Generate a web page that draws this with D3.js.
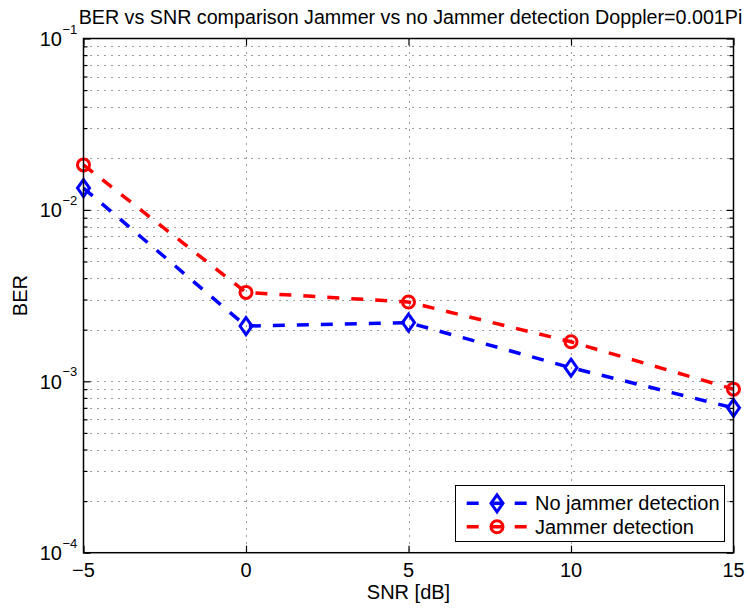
<!DOCTYPE html>
<html>
<head>
<meta charset="utf-8">
<script src="https://cdn.jsdelivr.net/npm/d3@7"></script>
<style>
  html, body { margin: 0; padding: 0; background: #fff; }
  svg { display: block; font-family: "Liberation Sans", Arial, Helvetica, sans-serif; }
</style>
</head>
<body>
<svg id="chart" width="748" height="613"></svg>
<script>
// SNR points and measured bit error rates
const snr = [-5, 0, 5, 10, 15];
const berNoJammerDetection = [0.0134, 0.0021, 0.0022, 0.0012, 0.0007];
const berJammerDetection   = [0.0183, 0.0033, 0.0029, 0.0017, 0.0009];

const xTickValues = [-5, 0, 5, 10, 15];
const yDecades = [1e-4, 1e-3, 1e-2, 1e-1];
const yExponents = ["\u22124", "\u22123", "\u22122", "\u22121"];
const legendLabels = ["No jammer detection", "Jammer detection"];

(function () {
const W = 748, H = 613;
const plotLeft = 83.5, plotRight = 733.5, plotTop = 38.5, plotBottom = 552.7;

const svg = d3.select("#chart");
svg.append("rect").attr("width", W).attr("height", H).attr("fill", "#fff");

const x = d3.scaleLinear().domain([-5, 15]).range([plotLeft, plotRight]);
const y = d3.scaleLog().domain([1e-4, 1e-1]).range([plotBottom, plotTop]);

// minor log ticks: 2..9 within every decade
const yMinor = [];
yDecades.slice(0, -1).forEach(d => { for (let k = 2; k <= 9; k++) yMinor.push(d * k); });
const yAllGrid = yDecades.concat(yMinor);

// dotted grid
const grid = svg.append("g").attr("stroke", "#3a3a3a").attr("stroke-width", 1)
  .attr("stroke-dasharray", "1,6").attr("fill", "none");
grid.selectAll("line.h").data(yAllGrid.filter(v => v > 1e-4 && v < 1e-1)).join("line")
  .attr("class", "h")
  .attr("x1", plotLeft).attr("x2", plotRight)
  .attr("y1", d => Math.round(y(d)) + 0.5).attr("y2", d => Math.round(y(d)) + 0.5);
grid.selectAll("line.v").data(xTickValues.slice(1, -1)).join("line")
  .attr("class", "v")
  .attr("y1", plotTop).attr("y2", plotBottom)
  .attr("x1", d => Math.round(x(d)) + 0.5).attr("x2", d => Math.round(x(d)) + 0.5);

// axes: inward ticks on all four sides
function styleAxis(g) {
  g.select(".domain").remove();
  g.selectAll(".tick line").attr("stroke", "#000").attr("stroke-width", 1.2);
  g.selectAll(".tick text").remove();
}
svg.append("g").attr("transform", `translate(0,${plotBottom})`)
  .call(d3.axisBottom(x).tickValues(xTickValues).tickSize(-7).tickFormat(""))
  .call(styleAxis);
svg.append("g").attr("transform", `translate(0,${plotTop})`)
  .call(d3.axisTop(x).tickValues(xTickValues).tickSize(-7).tickFormat(""))
  .call(styleAxis);
svg.append("g").attr("transform", `translate(${plotLeft},0)`)
  .call(d3.axisLeft(y).tickValues(yDecades).tickSize(-7).tickFormat(""))
  .call(styleAxis);
svg.append("g").attr("transform", `translate(${plotRight},0)`)
  .call(d3.axisRight(y).tickValues(yDecades).tickSize(-7).tickFormat(""))
  .call(styleAxis);
svg.append("g").attr("transform", `translate(${plotLeft},0)`)
  .call(d3.axisLeft(y).tickValues(yMinor).tickSize(-4).tickFormat(""))
  .call(styleAxis);
svg.append("g").attr("transform", `translate(${plotRight},0)`)
  .call(d3.axisRight(y).tickValues(yMinor).tickSize(-4).tickFormat(""))
  .call(styleAxis);

// x tick labels
svg.append("g").selectAll("text").data(xTickValues).join("text")
  .attr("x", d => x(d)).attr("y", 577)
  .attr("text-anchor", "middle").attr("font-size", 20).attr("fill", "#000")
  .text(d => d < 0 ? "\u2212" + Math.abs(d) : String(d));

// y tick labels as 10 with superscript exponent
const yl = svg.append("g").attr("fill", "#000");
yDecades.forEach((d, i) => {
  const yy = y(d);
  yl.append("text").attr("x", 62).attr("y", yy + 7.5)
    .attr("text-anchor", "end").attr("font-size", 20).text("10");
  yl.append("text").attr("x", 62.5).attr("y", yy - 5)
    .attr("font-size", 13).text(yExponents[i]);
});

// axis labels and title
svg.append("text").attr("x", (plotLeft + plotRight) / 2).attr("y", 599)
  .attr("text-anchor", "middle").attr("font-size", 20).text("SNR [dB]");
svg.append("text").attr("transform", `translate(27,${(plotTop + plotBottom) / 2}) rotate(-90)`)
  .attr("text-anchor", "middle").attr("font-size", 20).text("BER");
svg.append("text").attr("x", 410.5).attr("y", 24)
  .attr("text-anchor", "middle").attr("font-size", 19.7)
  .text("BER vs SNR comparison Jammer vs no Jammer detection Doppler=0.001Pi");

// series
const diamond = "M0,-8.5L6,0L0,8.5L-6,0Z";
const series = [
  { values: berNoJammerDetection, color: "#0000ff", marker: "diamond" },
  { values: berJammerDetection,   color: "#ff0000", marker: "circle" }
];
const line = d3.line().x(d => x(d[0])).y(d => y(d[1]));

function drawMarker(g, type, color) {
  if (type === "diamond") {
    g.append("path").attr("d", diamond).attr("fill", "none")
      .attr("stroke", color).attr("stroke-width", 3).attr("stroke-linejoin", "miter");
  } else {
    g.append("circle").attr("r", 6).attr("fill", "none")
      .attr("stroke", color).attr("stroke-width", 3);
  }
}

series.forEach(s => {
  const pts = snr.map((v, i) => [v, s.values[i]]);
  svg.append("path").attr("d", line(pts)).attr("fill", "none")
    .attr("stroke", s.color).attr("stroke-width", 3.5)
    .attr("stroke-dasharray", "12,12");
  pts.forEach(p => {
    const g = svg.append("g").attr("transform", `translate(${x(p[0])},${y(p[1])})`);
    drawMarker(g, s.marker, s.color);
  });
});

// axes box
svg.append("rect").attr("x", plotLeft).attr("y", plotTop)
  .attr("width", plotRight - plotLeft).attr("height", plotBottom - plotTop)
  .attr("fill", "none").attr("stroke", "#000").attr("stroke-width", 1.5);

// legend
const lg = svg.append("g");
lg.append("rect").attr("x", 455.5).attr("y", 485.5).attr("width", 269).attr("height", 56)
  .attr("fill", "#fff").attr("stroke", "#000").attr("stroke-width", 1);
series.forEach((s, i) => {
  const yy = 503.3 + i * 23.4;
  lg.append("line").attr("x1", 466.7).attr("x2", 526.7).attr("y1", yy).attr("y2", yy)
    .attr("stroke", s.color).attr("stroke-width", 3.5).attr("stroke-dasharray", "12,12");
  const g = lg.append("g").attr("transform", `translate(497,${yy})`);
  drawMarker(g, s.marker, s.color);
  lg.append("text").attr("x", 535).attr("y", yy + 7).attr("font-size", 20)
    .attr("fill", "#000").text(legendLabels[i]);
});
})();
</script>
</body>
</html>
